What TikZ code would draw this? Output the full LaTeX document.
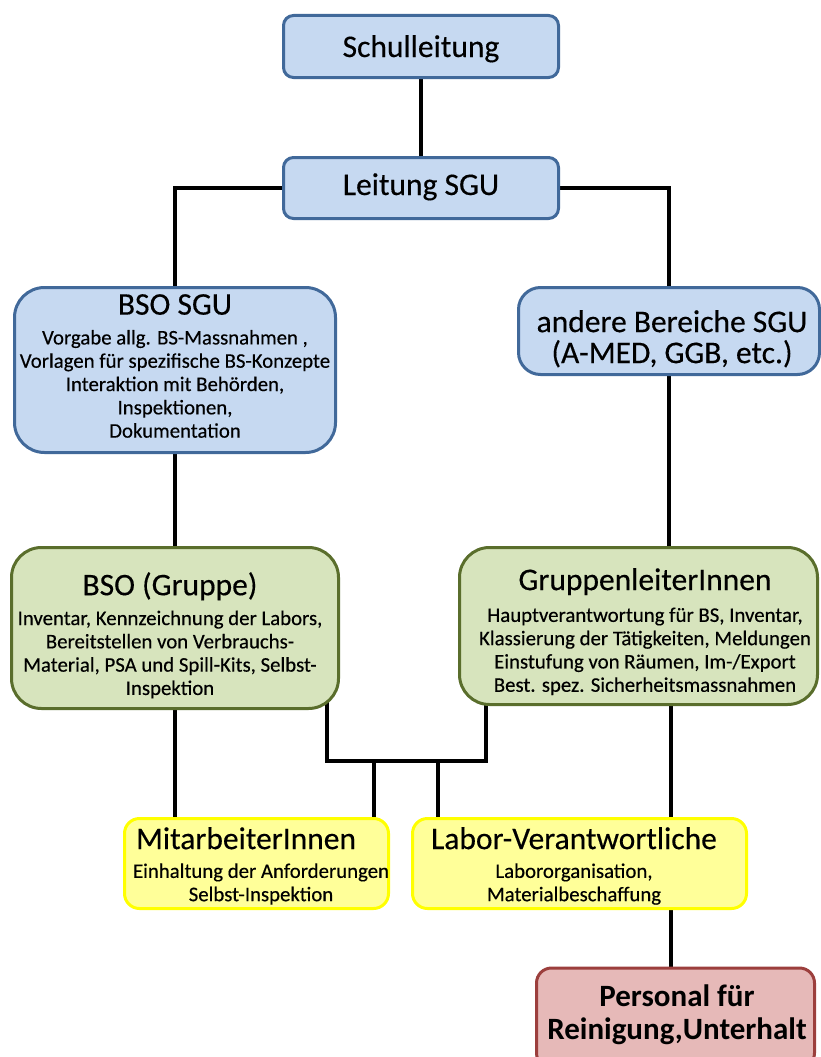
\documentclass[tikz,border=0pt]{standalone}
\usepackage{fontspec}
\setmainfont{Carlito}
\newfontfamily\heavyfont{Carlito}[FakeBold=0.35]
\usetikzlibrary{backgrounds}
\definecolor{bluefill}{HTML}{C6D9F1}
\definecolor{blueline}{HTML}{41699A}
\definecolor{greenfill}{HTML}{D7E4BD}
\definecolor{greenline}{HTML}{5A6E2C}
\definecolor{yellowfill}{HTML}{FFFF99}
\definecolor{yellowline}{HTML}{FFFF00}
\definecolor{redfill}{HTML}{E6B9B8}
\definecolor{redline}{HTML}{9C3F3D}
\newcommand{\ttlfont}{\heavyfont\fontsize{31.5}{31}\selectfont}
\newcommand{\bdyfont}{\heavyfont\fontsize{20.8}{23.3}\selectfont}
\tikzset{
  boxbase/.style={line width=3pt, inner sep=0pt},
  bluebox/.style={boxbase, draw=blueline, fill=bluefill},
  greenbox/.style={boxbase, draw=greenline, fill=greenfill},
  yellowbox/.style={boxbase, draw=yellowline, fill=yellowfill, rounded corners=15pt},
  redbox/.style={boxbase, draw=redline, fill=redfill, rounded corners=15pt},
  txt/.style={inner sep=0pt, align=center, font=\bdyfont},
  ttl/.style={inner sep=0pt, font=\ttlfont},
  conn/.style={line width=4pt, black},
}
\begin{document}
\begin{tikzpicture}[x=1pt, y=-1pt]
\useasboundingbox (0,0) rectangle (821,1057);

% boxes
\node[bluebox, rounded corners=10pt, minimum width=275pt, minimum height=62pt] (schul) at (421,46.5) {};
\node[bluebox, rounded corners=10pt, minimum width=275pt, minimum height=61pt] (leit) at (421,188) {};
\node[bluebox, rounded corners=30pt, minimum width=321pt, minimum height=165pt] (bsosgu) at (175,370) {};
\node[bluebox, rounded corners=22pt, minimum width=301pt, minimum height=87pt] (andere) at (669,331) {};
\node[greenbox, rounded corners=30pt, minimum width=327pt, minimum height=161pt] (gruppe) at (175,628) {};
\node[greenbox, rounded corners=30pt, minimum width=358pt, minimum height=157pt] (grl) at (638.5,626) {};
\node[yellowbox, minimum width=264pt, minimum height=90pt] (mit) at (256.5,863.5) {};
\node[yellowbox, minimum width=334pt, minimum height=90pt] (labor) at (579.5,863.5) {};
\node[redbox, minimum width=278pt, minimum height=100pt] (pers) at (675.5,1018) {};

% texts
\node[ttl, anchor=base] (schul-t) at (421,57) {Schulleitung};
\node[ttl, anchor=base] (leit-t) at (421,195) {Leitung SGU};
\node[txt, anchor=north] (bsosgu-t) at (175,294) {{\ttlfont BSO SGU}\\[6.5pt]
  Vorgabe allg. BS-Massnahmen ,\\
  Vorlagen für spezifische BS-Konzepte\\
  Interaktion mit Behörden,\\
  Inspektionen,\\
  Dokumentation};
\node[txt, anchor=north, font=\ttlfont] (andere-t) at (672,310) {andere Bereiche SGU\\[0pt](A-MED, GGB, etc.)};
\node[txt, anchor=north] (gruppe-t) at (170,572) {{\ttlfont BSO (Gruppe)}\\[6.5pt]
  Inventar, Kennzeichnung der Labors,\\
  Bereitstellen von Verbrauchs-\\
  Material, PSA und Spill-Kits, Selbst-\\
  Inspektion};
\node[txt, anchor=north] (grl-t) at (645,568) {{\ttlfont GruppenleiterInnen}\\[8.5pt]
  Hauptverantwortung für BS, Inventar,\\
  Klassierung der Tätigkeiten, Meldungen\\
  Einstufung von Räumen, Im-/Export\\
  Best. spez. Sicherheitsmassnahmen};
\node[txt, anchor=north] (mit-t) at (261,827) {\makebox[262pt][l]{\hspace{6pt}\ttlfont MitarbeiterInnen}\\[5.5pt]
  Einhaltung der Anforderungen\\
  Selbst-Inspektion};
\node[txt, anchor=north] (labor-t) at (574,827) {{\ttlfont Labor-Verantwortliche}\\[5.5pt]
  Labororganisation,\\
  Materialbeschaffung};
\node[txt, anchor=north, font=\fontsize{31}{33}\selectfont\bfseries] (pers-t) at (677,985) {Personal für\\Reinigung,Unterhalt};

% connectors
\coordinate (jl) at (327,761);
\coordinate (jr) at (486,761);
\coordinate (d1) at (374,761);
\coordinate (d2) at (438,761);
\begin{pgfonlayer}{background}
\draw[conn] (schul) -- (leit);
\draw[conn] (leit.center) -| (bsosgu.center);
\draw[conn] (leit.center) -| (andere.center);
\draw[conn] (bsosgu) -- (gruppe);
\draw[conn] (andere.center) -- (andere.center |- grl.center);
\draw[conn] ([xshift=2pt]andere.center |- grl.center) -- ([xshift=2pt]andere.center |- pers.center);
\draw[conn] (gruppe.center) -- (gruppe.center |- mit.center);
\draw[conn] (gruppe.center -| jl) -- (jl) -- (jr) -- (grl.center -| jr);
\draw[conn] (d1) -- (mit.center -| d1);
\draw[conn] (d2) -- (labor.center -| d2);
\end{pgfonlayer}
\end{tikzpicture}
\end{document}
